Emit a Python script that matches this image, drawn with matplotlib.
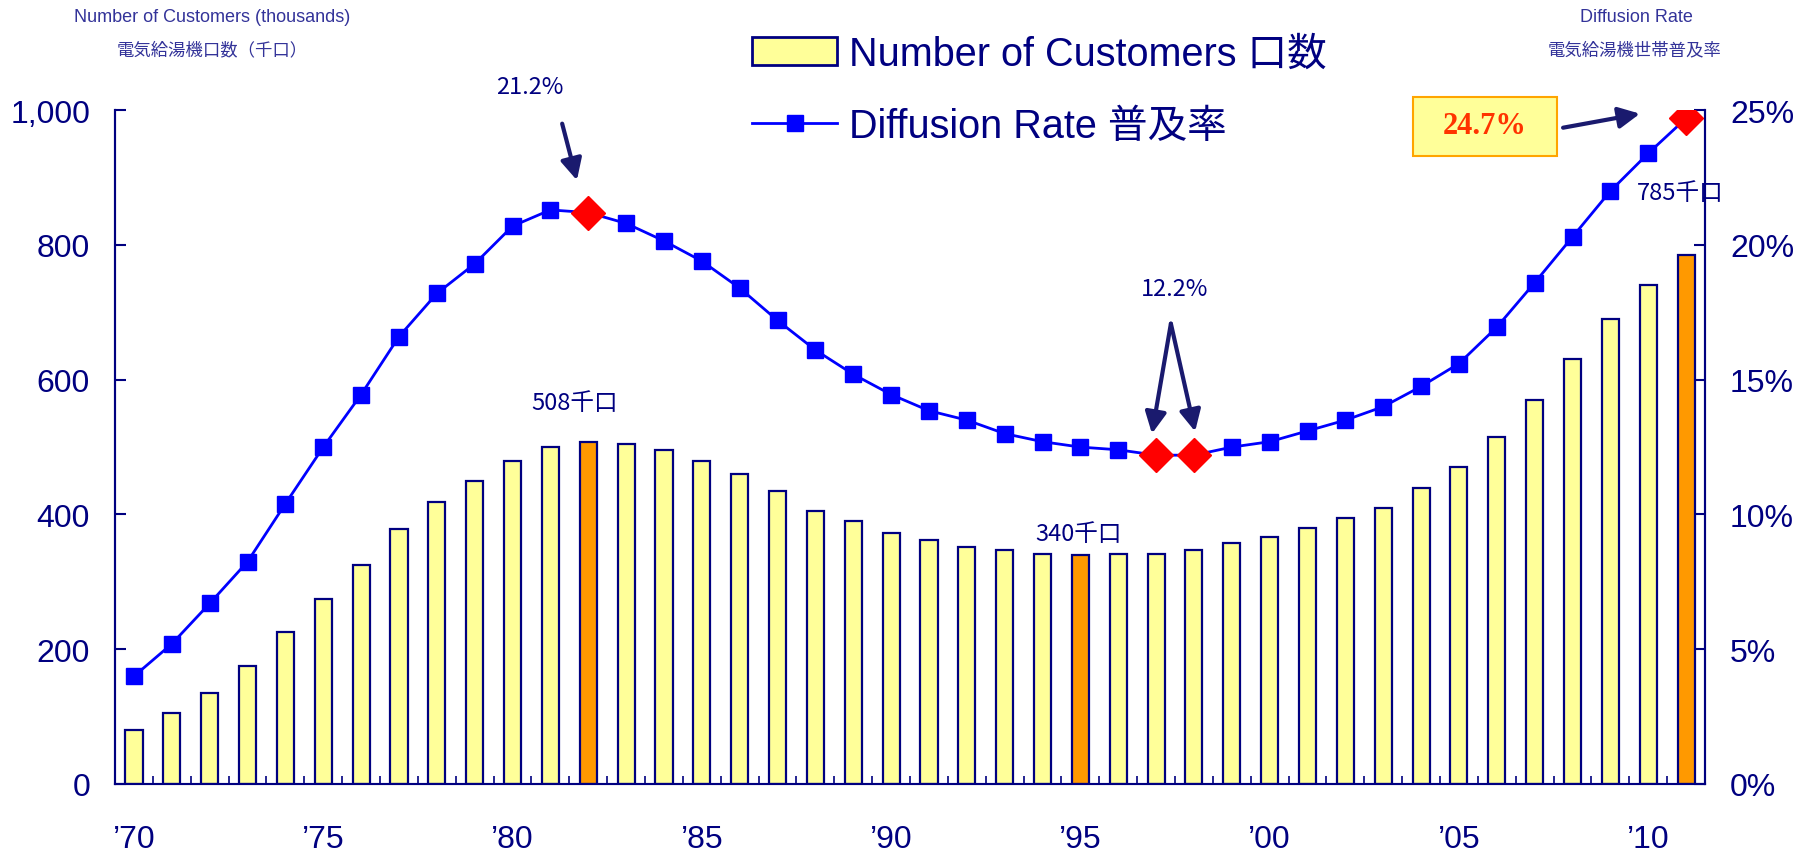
import matplotlib
matplotlib.use('Agg')
import matplotlib.pyplot as plt
from matplotlib.patches import Patch, Rectangle
from matplotlib.lines import Line2D

plt.rcParams['font.family'] = ['Liberation Sans', 'Noto Sans CJK JP', 'DejaVu Sans']

# data
years = list(range(1970, 2012))
year_labels = ["\u201970", "\u201975", "\u201980", "\u201985", "\u201990", "\u201995", "\u201900", "\u201905", "\u201910"]
customers = [80, 105, 135, 175, 225, 275, 325, 378, 418, 450,
             480, 500, 508, 505, 495, 480, 460, 435, 405, 390,
             372, 362, 352, 347, 342, 340, 342, 342, 347, 357,
             367, 380, 395, 410, 440, 470, 515, 570, 630, 690,
             740, 785]
rate = [4.0, 5.2, 6.7, 8.25, 10.4, 12.5, 14.45, 16.6, 18.2, 19.3,
        20.7, 21.3, 21.2, 20.8, 20.15, 19.4, 18.4, 17.2, 16.1, 15.2,
        14.45, 13.85, 13.5, 13.0, 12.7, 12.5, 12.4, 12.2, 12.2, 12.5,
        12.7, 13.1, 13.5, 14.0, 14.75, 15.6, 16.95, 18.6, 20.3, 22.0,
        23.4, 24.7]
hi_bars = [1982, 1995, 2011]
hi_points = [1982, 1997, 1998, 2011]

navy = '#000080'
title_col = '#333399'
yellow = '#FFFF99'
orange = '#FF9900'
cjk = ['Noto Sans CJK JP', 'DejaVu Sans']

fig = plt.figure(figsize=(17.98, 8.54), dpi=100)
ax = fig.add_axes([0.064, 0.0808, 0.8843, 0.789])
ax2 = ax.twinx()

x = list(range(len(years)))
cols = [orange if y in hi_bars else yellow for y in years]
ax.bar(x, customers, width=0.45, color=cols, edgecolor=navy, linewidth=1.6, zorder=2)

sq = [i for i, y in enumerate(years) if y not in hi_points]
dm = [i for i, y in enumerate(years) if y in hi_points]
ax2.plot(x, rate, color='#0000FF', lw=2, marker='s', markersize=12,
         markevery=sq, markerfacecolor='#0000FF', markeredgecolor='#0000FF', zorder=3)
ax2.plot([x[i] for i in dm], [rate[i] for i in dm], ls='none', marker='D',
         markersize=17, color='#FF0000', zorder=4)

ax.set_xlim(-0.5, len(years) - 0.5)
ax.set_ylim(0, 1000)
ax2.set_ylim(0, 25)

ax.set_yticks(range(0, 1001, 200))
ax.set_yticklabels(['0', '200', '400', '600', '800', '1,000'])
ax2.set_yticks(range(0, 26, 5))
ax2.set_yticklabels(['%d%%' % v for v in range(0, 26, 5)])
ax.set_xticks(range(0, len(years), 5))
ax.set_xticklabels(year_labels)
ax.set_xticks([i + 0.5 for i in range(len(years) - 1)], minor=True)

for a in (ax, ax2):
    for s in a.spines.values():
        s.set_color(navy)
        s.set_linewidth(1.5)
    a.spines['top'].set_visible(False)
ax.spines['bottom'].set_color('#6666AA')

ax.tick_params(axis='y', direction='in', length=8, width=1.5, color=navy, labelcolor=navy, pad=18)
ax2.tick_params(axis='y', direction='in', length=8, width=1.5, color=navy, labelcolor=navy, pad=18)
ax.tick_params(axis='x', which='major', length=0, labelcolor=navy, pad=29)
ax.tick_params(axis='x', which='minor', direction='in', length=6, width=1.2, color=navy)
for lab in ax.get_yticklabels() + ax2.get_yticklabels() + ax.get_xticklabels():
    lab.set_fontsize(23)

# axis titles
fig.text(212 / 1798, 1 - 18 / 854, 'Number of Customers (thousands)', ha='center', va='center',
         fontsize=13, color=title_col)
fig.text(212 / 1798, 1 - 50 / 854, '電気給湯機口数（千口）', ha='center', va='center',
         fontsize=12.5, color=title_col, family=cjk)
fig.text(1636 / 1798, 1 - 17 / 854, 'Diffusion Rate', ha='center', va='center',
         fontsize=13, color=title_col)
fig.text(1635 / 1798, 1 - 50 / 854, '電気給湯機世帯普及率', ha='center', va='center',
         fontsize=12.5, color=title_col, family=cjk)

# legend
handles = [Patch(facecolor=yellow, edgecolor=navy, linewidth=2),
           Line2D([], [], color='#0000FF', lw=2, marker='s', markersize=12)]
fig.legend(handles, ['Number of Customers 口数', 'Diffusion Rate 普及率'],
           loc='upper left', bbox_to_anchor=(752 / 1798, 1 - 36 / 854), frameon=False,
           prop={'family': ['Liberation Sans', 'Noto Sans CJK JP'], 'size': 28.5},
           labelcolor=navy, handlelength=2.15, handleheight=0.7, handletextpad=0.3,
           labelspacing=0.85, borderpad=0, borderaxespad=0)

# annotations
arw = dict(arrowstyle='-|>', color='#1A1A6E', lw=3, mutation_scale=32, shrinkA=0, shrinkB=0)
ax2.annotate('', xy=(11.7, 22.4), xytext=(11.31, 24.5), arrowprops=arw, annotation_clip=False)
ax2.text(10.46, 25.87, '21.2%', ha='center', va='center', fontsize=17, color=navy,
         family=cjk, clip_on=False)
ax2.annotate('', xy=(26.89, 13.0), xytext=(27.39, 17.08), arrowprops=arw)
ax2.annotate('', xy=(28.03, 13.08), xytext=(27.39, 17.08), arrowprops=arw)
ax2.text(27.5, 18.38, '12.2%', ha='center', va='center', fontsize=17, color=navy, family=cjk)

ax.text(11.65, 566, '508千口', ha='center', va='center', fontsize=17, color=navy, family=cjk)
ax.text(24.94, 372, '340千口', ha='center', va='center', fontsize=17, color=navy, family=cjk)
ax2.text(40.85, 21.95, '785千口', ha='center', va='center', fontsize=17, color=navy,
         family=cjk, zorder=5, clip_on=False)

box = Rectangle((1413 / 1798, 1 - 157 / 854), 144 / 1798, 59 / 854, transform=fig.transFigure,
                facecolor=yellow, edgecolor='#FFA500', linewidth=1.5, zorder=5)
fig.patches.append(box)
fig.text(1485 / 1798, 1 - 127 / 854, '24.7%', ha='center', va='center', fontsize=22,
         fontweight='bold', color='#FF3300', family=['Liberation Serif', 'DejaVu Serif'], zorder=6)
ax2.annotate('', xy=(39.78, 24.87), xytext=(37.75, 24.35), arrowprops=arw, annotation_clip=False)

fig.savefig('out.png', dpi=100)
